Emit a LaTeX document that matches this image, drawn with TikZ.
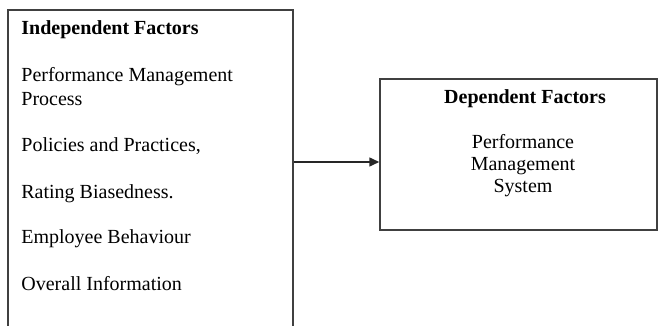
\documentclass[tikz,border=0pt]{standalone}
\usepackage{fontspec}
\setmainfont{Liberation Serif}
\usetikzlibrary{arrows.meta}

\begin{document}
\begin{tikzpicture}[x=0.5pt,y=-0.5pt,>={Triangle[length=5pt,width=4.5pt]},
    box/.style={draw=black!75,line width=0.75pt,inner sep=0pt},
    item/.style={anchor=base west,inner sep=0pt,font=\fontsize{10}{12}\selectfont},
    ditem/.style={anchor=base,inner sep=0pt,font=\fontsize{10}{12}\selectfont}]
\clip (0,0) rectangle (659,326);
\fill[white] (0,0) rectangle (659,326);

% === Left: independent factors ===
\node[box,minimum width=142.5pt,minimum height=175pt] (indep) at (150.5,185) {};
\node[item,font=\fontsize{10}{12}\selectfont\bfseries] (ititle) at (21,35) {Independent Factors};
\node[item] (i1a) at (21,82) {Performance Management};
\node[item] (i1b) at (21,106) {Process};
\foreach \n/\y/\lbl in {2/152/{Policies and Practices,}, 3/198.5/{Rating Biasedness.},
                         4/243.5/{Employee Behaviour}, 5/290/{Overall Information}} {
    \node[item] (i\n) at (21,\y) {\lbl};
}

% === Right: dependent factors ===
\node[box,minimum width=138.5pt,minimum height=75.5pt] (dep) at (518.5,154.6) {};
\node[ditem,font=\fontsize{10}{12}\selectfont\bfseries] (dtitle) at (525,103.5) {Dependent Factors};
\node[ditem] (d1) at (523,148.5) {Performance};
\node[ditem] (d2) at (523,170) {Management};
\node[ditem] (d3) at (523,192) {System};

% === Arrow ===
\coordinate (lvl) at (0,162);
\draw[->,black!85,line width=0.75pt] (indep.east |- lvl) -- (dep.west |- lvl);
\end{tikzpicture}
\end{document}
